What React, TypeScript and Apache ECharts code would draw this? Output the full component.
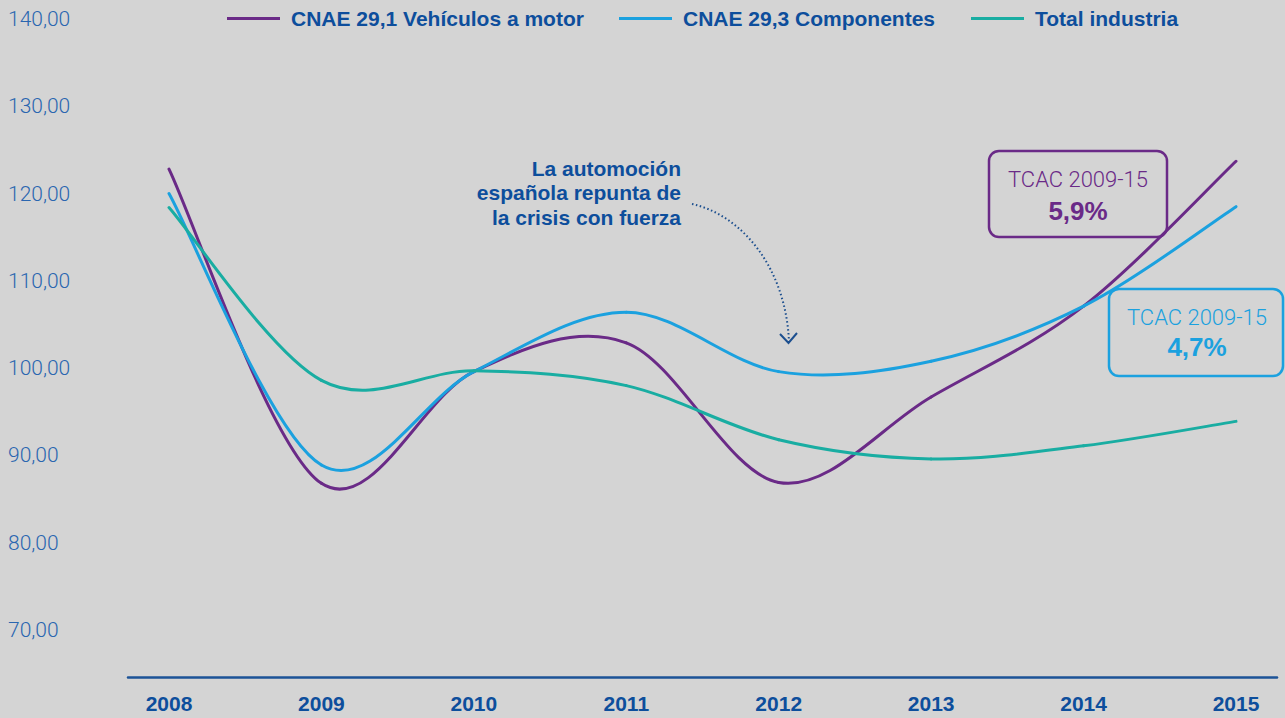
import React, { useEffect, useRef } from "react";
import * as echarts from "echarts";

const years = ["2008", "2009", "2010", "2011", "2012", "2013", "2014", "2015"];
const vehiculos = [122.8, 86.8, 99.6, 102.9, 86.9, 96.7, 107.1, 123.7];
const componentes = [120.0, 88.9, 99.6, 106.4, 99.6, 100.8, 107.1, 118.5];
const totalIndustria = [118.4, 98.6, 99.7, 98.0, 91.8, 89.6, 91.1, 93.9];
const seriesNames = ["CNAE 29,1 Vehículos a motor", "CNAE 29,3 Componentes", "Total industria"];
const seriesColors = ["#6a2a87", "#1ba1df", "#19ada2"];
const yTicks = { min: 70, max: 140, interval: 10 };
const annotation = "La automoción\nespañola repunta de\nla crisis con fuerza";
const tcacLabel = "TCAC 2009-15";
const tcacValues = ["5,9%", "4,7%"];

const DARK_BLUE = "#0d4e9c";
const AXIS_BLUE = "#2a66b0";
const BOLD_FONT = "'Liberation Sans', Arial, sans-serif";
const LIGHT_FONT = "Roboto, 'Liberation Sans', sans-serif";

// Catmull-Rom style smoothing (like a spreadsheet's smoothed line), drawn via the axes' coord().
function makeRenderItem(values: number[], color: string) {
  const n = values.length;
  return (params: any, api: any) => {
    const i = params.dataIndex;
    if (i >= n - 1) return { type: "group", children: [] };
    const pt = (k: number) => {
      const c = Math.max(0, Math.min(n - 1, k));
      return api.coord([c, values[c]]);
    };
    const p0 = pt(i - 1);
    const p1 = pt(i);
    const p2 = pt(i + 1);
    const p3 = pt(i + 2);
    return {
      type: "bezierCurve",
      shape: {
        x1: p1[0],
        y1: p1[1],
        cpx1: p1[0] + (p2[0] - p0[0]) / 6,
        cpy1: p1[1] + (p2[1] - p0[1]) / 6,
        cpx2: p2[0] - (p3[0] - p1[0]) / 6,
        cpy2: p2[1] - (p3[1] - p1[1]) / 6,
        x2: p2[0],
        y2: p2[1],
      },
      style: { stroke: color, lineWidth: 3, fill: null, lineCap: "round" },
    };
  };
}

export default function App() {
  const ref = useRef<HTMLDivElement>(null);
  useEffect(() => {
    if (!ref.current) return;
    const chart = echarts.init(ref.current, undefined, { renderer: "svg" });
    const dataSets = [vehiculos, componentes, totalIndustria];
    const legendLefts = [227, 619, 971];
    chart.setOption({
      animation: false,
      backgroundColor: "#d4d4d4",
      legend: seriesNames.map((n, i) => ({
        data: [n],
        left: legendLefts[i],
        top: 8,
        padding: 0,
        icon: "rect",
        itemWidth: 53,
        itemHeight: 3,
        textStyle: {
          color: DARK_BLUE,
          fontFamily: BOLD_FONT,
          fontWeight: "bold",
          fontSize: 21,
          padding: [0, 0, 0, 6],
        },
      })),
      grid: [
        { left: 169, right: 49, top: 19, bottom: 88 },
        { left: 128, right: 8, top: 600, bottom: 41 },
      ],
      xAxis: [
        {
          type: "category",
          data: years,
          boundaryGap: false,
          gridIndex: 0,
          axisLine: { show: false },
          axisTick: { show: false },
          splitLine: { show: false },
          axisLabel: {
            margin: 73,
            verticalAlign: "middle",
            color: DARK_BLUE,
            fontFamily: BOLD_FONT,
            fontWeight: "bold",
            fontSize: 21,
          },
        },
        {
          type: "value",
          gridIndex: 1,
          min: 0,
          max: 1,
          axisLine: { show: true, lineStyle: { color: "#1c5397", width: 2.5 } },
          axisTick: { show: false },
          axisLabel: { show: false },
          splitLine: { show: false },
        },
      ],
      yAxis: [
        {
          type: "value",
          gridIndex: 0,
          min: yTicks.min,
          max: yTicks.max,
          interval: yTicks.interval,
          axisLine: { show: false },
          axisTick: { show: false },
          splitLine: { show: false },
          axisLabel: {
            align: "left",
            margin: 161,
            color: AXIS_BLUE,
            fontFamily: LIGHT_FONT,
            fontWeight: 300,
            fontSize: 21,
            formatter: (v: number) => v.toFixed(2).replace(".", ","),
          },
        },
        { type: "value", gridIndex: 1, show: false },
      ],
      series: seriesNames.map((n, i) => ({
        name: n,
        type: "custom",
        xAxisIndex: 0,
        yAxisIndex: 0,
        data: dataSets[i].map((v, k) => [k, v]),
        encode: { x: 0, y: 1 },
        itemStyle: { color: seriesColors[i] },
        renderItem: makeRenderItem(dataSets[i], seriesColors[i]),
      })),
      graphic: [
        {
          type: "text",
          x: 681,
          y: 156,
          style: {
            text: annotation,
            align: "right",
            verticalAlign: "top",
            lineHeight: 24.5,
            fill: DARK_BLUE,
            font: `bold 21px ${BOLD_FONT}`,
          },
        },
        {
          type: "bezierCurve",
          shape: { x1: 692, y1: 204, cpx1: 742, cpy1: 215, cpx2: 786, cpy2: 268, x2: 789, y2: 342 },
          style: { stroke: "#1c4f8f", lineWidth: 2, lineDash: [1.5, 2.5], fill: "none" },
        },
        {
          type: "polyline",
          shape: { points: [[780, 334], [788.5, 343], [797, 333]] },
          style: { stroke: "#1c4f8f", lineWidth: 2, fill: "none" },
        },
        {
          type: "rect",
          shape: { x: 989, y: 151, width: 178, height: 86, r: 10 },
          style: { stroke: seriesColors[0], lineWidth: 2.5, fill: "none" },
        },
        {
          type: "text",
          x: 1078,
          y: 179,
          style: {
            text: tcacLabel,
            align: "center",
            verticalAlign: "middle",
            fill: seriesColors[0],
            font: `300 22px ${LIGHT_FONT}`,
          },
        },
        {
          type: "text",
          x: 1078,
          y: 211,
          style: {
            text: tcacValues[0],
            align: "center",
            verticalAlign: "middle",
            fill: seriesColors[0],
            font: `bold 26px ${BOLD_FONT}`,
          },
        },
        {
          type: "rect",
          shape: { x: 1109, y: 289, width: 174, height: 87, r: 10 },
          style: { stroke: seriesColors[1], lineWidth: 2.5, fill: "none" },
        },
        {
          type: "text",
          x: 1197,
          y: 317,
          style: {
            text: tcacLabel,
            align: "center",
            verticalAlign: "middle",
            fill: seriesColors[1],
            font: `300 22px ${LIGHT_FONT}`,
          },
        },
        {
          type: "text",
          x: 1197,
          y: 347,
          style: {
            text: tcacValues[1],
            align: "center",
            verticalAlign: "middle",
            fill: seriesColors[1],
            font: `bold 26px ${BOLD_FONT}`,
          },
        },
      ],
    });
    return () => chart.dispose();
  }, []);
  return (
    <div
      ref={ref}
      style={{ position: "absolute", left: 0, top: 0, width: 1285, height: 718 }}
    />
  );
}
